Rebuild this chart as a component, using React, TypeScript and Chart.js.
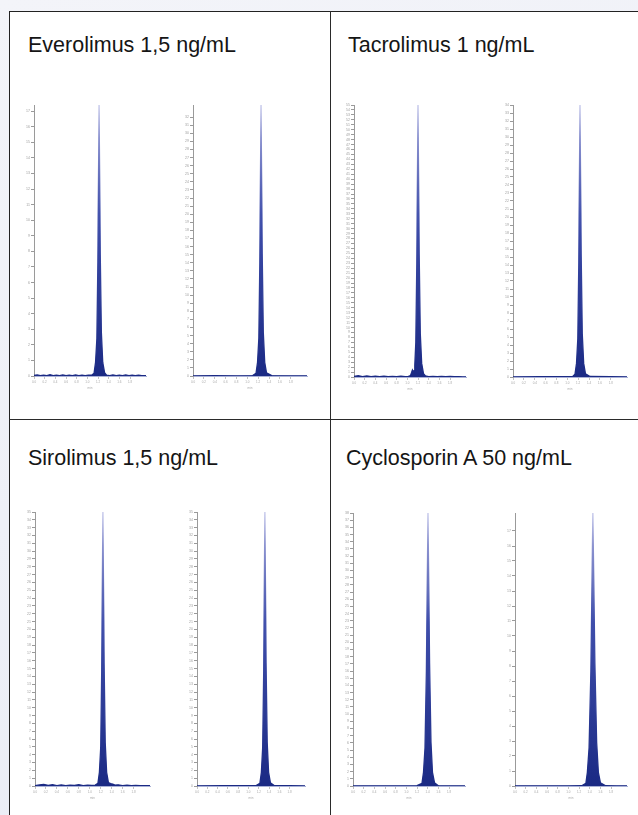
import React, { useEffect, useRef } from "react";
import { Chart, registerables } from "chart.js";

Chart.register(...registerables);

// ---- data (minutes / intensity in tick units) ----
const panelTitles = ["Everolimus 1,5 ng/mL", "Tacrolimus 1 ng/mL", "Sirolimus 1,5 ng/mL", "Cyclosporin A 50 ng/mL"];

const everoLeftX = [0, 0.06, 0.12, 0.18, 0.24, 0.3, 0.36, 0.42, 0.48, 0.54, 0.6, 0.66, 0.72, 0.78, 0.84, 0.9, 0.96, 1.02, 1.08, 1.126, 1.154, 1.179, 1.1975, 1.22, 1.2425, 1.263, 1.289, 1.323, 1.36, 1.42, 1.48, 1.54, 1.6, 1.66, 1.72, 1.78, 1.84, 1.9, 1.96, 2.02, 2.1];
const everoLeftY = [0.03, 0.07, 0.02, 0.06, 0.03, 0.08, 0.02, 0.05, 0.03, 0.07, 0.02, 0.06, 0.03, 0.07, 0.03, 0.05, 0.03, 0.06, 0.05, 0.17, 0.87, 2.4, 7.3, 17.4, 7.8, 2.8, 0.87, 0.21, 0.06, 0.03, 0.07, 0.03, 0.05, 0.02, 0.07, 0.03, 0.05, 0.03, 0.06, 0.03, 0.02];

const everoRightX = [0, 0.4, 0.8, 1.1, 1.161, 1.189, 1.213, 1.231, 1.253, 1.275, 1.295, 1.321, 1.354, 1.45, 1.8, 2.1];
const everoRightY = [0.02, 0.03, 0.02, 0.05, 0.34, 1.7, 4.7, 14.1, 33.5, 15.1, 5.4, 1.7, 0.4, 0.05, 0.02, 0.02];

const tacroLeftX = [0, 0.08, 0.16, 0.24, 0.32, 0.4, 0.48, 0.56, 0.64, 0.72, 0.8, 0.88, 0.96, 1.02, 1.06, 1.08, 1.095, 1.11, 1.125, 1.14, 1.159, 1.1775, 1.2, 1.2225, 1.243, 1.269, 1.303, 1.34, 1.4, 1.48, 1.56, 1.64, 1.72, 1.8, 1.88, 1.96, 2.04, 2.1];
const tacroLeftY = [0.1, 0.25, 0.08, 0.2, 0.05, 0.16, 0.06, 0.15, 0.05, 0.13, 0.06, 0.16, 0.08, 0.12, 0.3, 0.9, 1.4, 1.0, 1.3, 2.4, 7.0, 23, 55, 24.7, 8.8, 2.75, 0.66, 0.2, 0.08, 0.14, 0.05, 0.1, 0.06, 0.1, 0.05, 0.08, 0.04, 0.03];

const tacroRightX = [0, 0.5, 1.0, 1.1, 1.142, 1.17, 1.194, 1.212, 1.234, 1.256, 1.276, 1.302, 1.335, 1.42, 1.8, 2.1];
const tacroRightY = [0.02, 0.03, 0.03, 0.06, 0.34, 1.7, 4.8, 14.3, 34, 15.3, 5.4, 1.7, 0.4, 0.06, 0.03, 0.02];

const siroLeftX = [0, 0.08, 0.16, 0.24, 0.32, 0.4, 0.48, 0.56, 0.64, 0.72, 0.8, 0.88, 0.96, 1.04, 1.1, 1.149, 1.176, 1.2, 1.218, 1.24, 1.262, 1.282, 1.308, 1.34, 1.38, 1.42, 1.46, 1.52, 1.6, 1.68, 1.76, 1.84, 1.92, 2.0, 2.1];
const siroLeftY = [0.05, 0.14, 0.2, 0.08, 0.17, 0.06, 0.14, 0.05, 0.11, 0.08, 0.17, 0.06, 0.11, 0.08, 0.12, 0.35, 1.75, 4.9, 14.7, 35, 15.75, 5.6, 1.75, 0.45, 0.3, 0.25, 0.12, 0.15, 0.06, 0.11, 0.05, 0.08, 0.04, 0.05, 0.03];

const siroRightX = [0, 0.5, 1.0, 1.15, 1.223, 1.252, 1.277, 1.297, 1.32, 1.343, 1.365, 1.392, 1.427, 1.5, 1.8, 2.1];
const siroRightY = [0.02, 0.03, 0.03, 0.05, 0.35, 1.75, 4.9, 14.7, 35, 15.75, 5.6, 1.75, 0.42, 0.05, 0.03, 0.02];

const cycloLeftX = [0, 0.5, 1.0, 1.2, 1.2935, 1.322, 1.35, 1.376, 1.406, 1.436, 1.462, 1.49, 1.528, 1.6, 1.9, 2.1];
const cycloLeftY = [0.02, 0.03, 0.03, 0.05, 0.38, 1.9, 5.3, 16, 38, 17.1, 6.1, 1.9, 0.46, 0.05, 0.03, 0.02];

const cycloRightX = [0, 0.5, 1.0, 1.25, 1.329, 1.357, 1.389, 1.4225, 1.46, 1.4975, 1.531, 1.563, 1.601, 1.7, 1.9, 2.1];
const cycloRightY = [0.01, 0.015, 0.015, 0.02, 0.18, 0.91, 2.55, 7.6, 18.2, 8.2, 2.9, 0.91, 0.22, 0.02, 0.015, 0.01];

const yMaxes = [17.4, 33.5, 55, 34, 35, 35, 38, 18.2];
const xMax = 2.1;
const xStep = 0.2;
const yStep = 1;

const Y_AXIS_W = 12;
const X_AXIS_H = 14;
const PAD_T = 4;
const PAD_R = 6;

type Spec = { xs: number[]; ys: number[]; yMax: number; area: { l: number; r: number; t: number; b: number } };

const specs: Spec[] = [
  { xs: everoLeftX, ys: everoLeftY, yMax: yMaxes[0], area: { l: 34, r: 146, t: 105, b: 376 } },
  { xs: everoRightX, ys: everoRightY, yMax: yMaxes[1], area: { l: 193, r: 307, t: 105, b: 376 } },
  { xs: tacroLeftX, ys: tacroLeftY, yMax: yMaxes[2], area: { l: 354, r: 466, t: 105, b: 377 } },
  { xs: tacroRightX, ys: tacroRightY, yMax: yMaxes[3], area: { l: 513, r: 627, t: 105, b: 377 } },
  { xs: siroLeftX, ys: siroLeftY, yMax: yMaxes[4], area: { l: 35, r: 150, t: 512, b: 786 } },
  { xs: siroRightX, ys: siroRightY, yMax: yMaxes[5], area: { l: 197, r: 305, t: 512, b: 786 } },
  { xs: cycloLeftX, ys: cycloLeftY, yMax: yMaxes[6], area: { l: 353, r: 465, t: 513, b: 786 } },
  { xs: cycloRightX, ys: cycloRightY, yMax: yMaxes[7], area: { l: 515, r: 627, t: 513, b: 786 } },
];

function peakFill(ctx: any) {
  const chart = ctx.chart;
  const a = chart.chartArea;
  if (!a) return "#24348c";
  const g = chart.ctx.createLinearGradient(0, a.top, 0, a.bottom);
  g.addColorStop(0, "#c3c6ea");
  g.addColorStop(0.12, "#8c93d0");
  g.addColorStop(0.4, "#3f4eab");
  g.addColorStop(1, "#1b2a84");
  return g;
}

function onStep(step: number) {
  return (s: any) => {
    s.ticks = s.ticks.filter((tk: any) => Math.abs(tk.value / step - Math.round(tk.value / step)) < 1e-6);
  };
}

function Chromatogram({ spec }: { spec: Spec }) {
  const ref = useRef<HTMLCanvasElement | null>(null);
  const { l, r, t, b } = spec.area;
  const w = r - l + Y_AXIS_W + PAD_R;
  const h = b - t + PAD_T + X_AXIS_H;
  useEffect(() => {
    if (!ref.current) return;
    const chart = new Chart(ref.current, {
      type: "line",
      data: {
        datasets: [
          {
            data: spec.xs.map((x, i) => ({ x, y: spec.ys[i] })),
            fill: "origin",
            backgroundColor: peakFill,
            borderColor: peakFill,
            borderWidth: 1.3,
            pointRadius: 0,
            tension: 0,
          },
        ],
      },
      options: {
        animation: false,
        responsive: false,
        maintainAspectRatio: false,
        layout: { padding: { top: PAD_T, right: PAD_R, left: 0, bottom: 0 } },
        plugins: { legend: { display: false }, tooltip: { enabled: false } },
        scales: {
          x: {
            type: "linear",
            min: 0,
            max: xMax,
            afterBuildTicks: onStep(xStep),
            afterFit: (s: any) => {
              s.height = X_AXIS_H;
            },
            ticks: {
              stepSize: xStep,
              autoSkip: false,
              maxRotation: 0,
              padding: 1,
              color: "#a8a8a8",
              font: { size: 3, family: "Liberation Sans" },
              callback: (v: any) => Number(v).toFixed(1),
            },
            grid: { drawOnChartArea: false, tickLength: 3, color: "#c2c2c2" },
            border: { color: "#a9b1d6", width: 1 },
            title: { display: true, text: "min", color: "#a8a8a8", font: { size: 3, family: "Liberation Sans" }, padding: 0 },
          },
          y: {
            min: 0,
            max: spec.yMax,
            afterBuildTicks: onStep(yStep),
            afterFit: (s: any) => {
              s.width = Y_AXIS_W;
            },
            ticks: {
              stepSize: yStep,
              autoSkip: false,
              maxTicksLimit: 200,
              padding: 1,
              color: "#a0a0a0",
              font: { size: 3.5, family: "Liberation Sans" },
            },
            grid: { drawOnChartArea: false, tickLength: 3, color: "#9a9a9a" },
            border: { color: "#9a9a9a", width: 1 },
          },
        },
      },
    });
    return () => chart.destroy();
  }, [spec]);
  return (
    <canvas
      ref={ref}
      width={w}
      height={h}
      style={{ position: "absolute", left: l - Y_AXIS_W, top: t - PAD_T, width: w, height: h }}
    />
  );
}

const titlePos = [
  { left: 28, top: 35 },
  { left: 348, top: 35 },
  { left: 28, top: 448 },
  { left: 346, top: 448 },
];

export default function App() {
  return (
    <div
      style={{
        position: "absolute",
        left: 0,
        top: 0,
        width: 638,
        height: 815,
        overflow: "hidden",
        background: "linear-gradient(160deg, #f3f4f9 0%, #e9ecf5 100%)",
      }}
    >
      <div
        style={{
          position: "absolute",
          left: 9,
          top: 11,
          width: 700,
          height: 900,
          background: "#ffffff",
          borderLeft: "1.5px solid #222",
          borderTop: "1.5px solid #222",
        }}
      />
      <div style={{ position: "absolute", left: 329.5, top: 11, width: 1.5, height: 900, background: "#2a2a2a" }} />
      <div style={{ position: "absolute", left: 9, top: 418.5, width: 700, height: 1.5, background: "#2a2a2a" }} />
      {panelTitles.map((txt, i) => (
        <div
          key={i}
          style={{
            position: "absolute",
            left: titlePos[i].left,
            top: titlePos[i].top,
            fontFamily: "'Liberation Sans', Arial, sans-serif",
            fontSize: 21.5,
            lineHeight: 1,
            color: "#151515",
            whiteSpace: "nowrap",
          }}
        >
          {txt}
        </div>
      ))}
      {specs.map((s, i) => (
        <Chromatogram key={i} spec={s} />
      ))}
    </div>
  );
}
